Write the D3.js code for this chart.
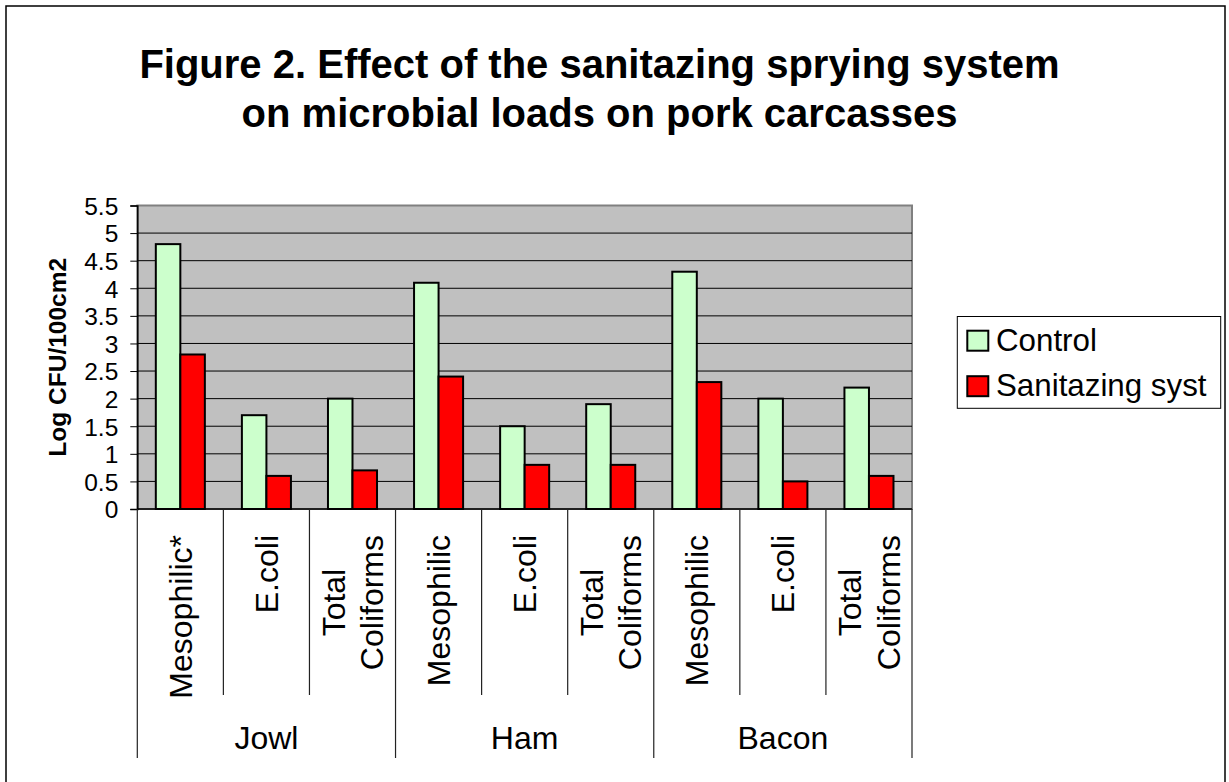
<!DOCTYPE html>
<html>
<head>
<meta charset="utf-8">
<script src="https://cdn.jsdelivr.net/npm/d3@7"></script>
<style>
  html, body { margin: 0; padding: 0; background: #fff; }
  svg { display: block; font-family: Arial, "Liberation Sans", sans-serif; }
</style>
</head>
<body>
<svg id="chart" width="1229" height="782"></svg>
<script>
// Microbial loads (Log CFU/100cm2) on pork carcass sites
const groups = ["Jowl", "Ham", "Bacon"];
const measureLabels = [["Mesophilic*"], ["E.coli"], ["Total", "Coliforms"],
                       ["Mesophilic"], ["E.coli"], ["Total", "Coliforms"],
                       ["Mesophilic"], ["E.coli"], ["Total", "Coliforms"]];
const seriesNames = ["Control", "Sanitazing syst"];
const controlValues = [4.8, 1.7, 2.0, 4.1, 1.5, 1.9, 4.3, 2.0, 2.2];
const sanitizedValues = [2.8, 0.6, 0.7, 2.4, 0.8, 0.8, 2.3, 0.5, 0.6];
const yTickValues = [0, 0.5, 1, 1.5, 2, 2.5, 3, 3.5, 4, 4.5, 5, 5.5];
const seriesColors = ["#CCFFCC", "#FF0000"];

const svg = d3.select("#chart");

// outer chart frame
svg.append("rect")
  .attr("x", 6).attr("y", 6).attr("width", 1219).attr("height", 800)
  .attr("fill", "#fff").attr("stroke", "#000").attr("stroke-width", 1.5);

// plot area geometry
const plot = { left: 137.3, right: 912, top: 205.5, bottom: 509 };

const keys = measureLabels.map((_, i) => "c" + i);
const x = d3.scaleBand().domain(keys).range([plot.left, plot.right]).padding(0);
const xInner = d3.scaleBand().domain(seriesNames).range([0, x.bandwidth()])
  .paddingInner(0).paddingOuter(0.755);
const y = d3.scaleLinear().domain([0, 5.5]).range([plot.bottom, plot.top]);

// plot background
svg.append("rect")
  .attr("x", plot.left).attr("y", plot.top)
  .attr("width", plot.right - plot.left).attr("height", plot.bottom - plot.top)
  .attr("fill", "#C0C0C0").attr("stroke", "#808080").attr("stroke-width", 2);

// horizontal gridlines
svg.append("g").selectAll("line")
  .data(yTickValues.filter(v => v > 0 && v < 5.5))
  .join("line")
  .attr("x1", plot.left).attr("x2", plot.right)
  .attr("y1", d => y(d)).attr("y2", d => y(d))
  .attr("stroke", "#000").attr("stroke-width", 1);

// bars
const rows = keys.map((k, i) => ({ key: k, values: [controlValues[i], sanitizedValues[i]] }));
const barG = svg.append("g").selectAll("g").data(rows).join("g")
  .attr("transform", d => `translate(${x(d.key)},0)`);
barG.selectAll("rect")
  .data(d => d.values.map((v, j) => ({ series: seriesNames[j], value: v, j })))
  .join("rect")
  .attr("x", d => xInner(d.series))
  .attr("width", xInner.bandwidth())
  .attr("y", d => y(d.value))
  .attr("height", d => y(0) - y(d.value))
  .attr("fill", d => seriesColors[d.j])
  .attr("stroke", "#000").attr("stroke-width", 2);

// y axis
const yAxis = svg.append("g")
  .attr("transform", `translate(${plot.left},0)`)
  .call(d3.axisLeft(y).tickValues(yTickValues).tickSize(7).tickPadding(12)
    .tickFormat(d => String(d)));
yAxis.select(".domain").attr("stroke", "#000").attr("stroke-width", 1.5);
yAxis.selectAll(".tick line").attr("stroke", "#000");
yAxis.selectAll(".tick text")
  .attr("font-size", 24.5).attr("fill", "#000")
  .attr("font-family", "Arial, 'Liberation Sans', sans-serif")
  .attr("dy", "0.36em");

// x axis baseline
svg.append("line")
  .attr("x1", plot.left).attr("x2", plot.right)
  .attr("y1", plot.bottom).attr("y2", plot.bottom)
  .attr("stroke", "#000").attr("stroke-width", 1.5);

// category dividers below the axis
const boundaries = d3.range(keys.length + 1).map(i => ({
  x: i < keys.length ? x(keys[i]) : plot.right,
  major: i % 3 === 0
}));
svg.append("g").selectAll("line").data(boundaries).join("line")
  .attr("x1", d => d.x).attr("x2", d => d.x)
  .attr("y1", plot.bottom)
  .attr("y2", d => d.major ? 758 : 695)
  .attr("stroke", "#222").attr("stroke-width", 1.2);

// rotated category labels, top-aligned, lines centred on each other
const catFont = 32;
const catTop = 535;
const catG = svg.append("g");
measureLabels.forEach((lines, i) => {
  const cx = x(keys[i]) + x.bandwidth() / 2;
  const g = catG.append("g");
  const texts = lines.map(t => g.append("text")
    .attr("font-size", catFont)
    .attr("text-anchor", "middle")
    .attr("fill", "#000")
    .text(t));
  const maxLen = d3.max(texts, t => t.node().getComputedTextLength());
  const mid = catTop + maxLen / 2;
  const lineGap = 38.3;
  texts.forEach((t, li) => {
    const off = (li - (lines.length - 1) / 2) * lineGap;
    t.attr("transform", `translate(${cx + off},${mid}) rotate(-90)`)
      .attr("dy", "0.36em");
  });
});

// group labels
svg.append("g").selectAll("text").data(groups).join("text")
  .attr("x", (d, i) => plot.left + x.step() * (i * 3 + 1.5))
  .attr("y", 749.3)
  .attr("text-anchor", "middle")
  .attr("font-size", 32)
  .attr("fill", "#000")
  .text(d => d);

// y axis title
svg.append("text")
  .attr("transform", `translate(66,${(plot.top + plot.bottom) / 2}) rotate(-90)`)
  .attr("text-anchor", "middle")
  .attr("font-size", 24.5)
  .attr("font-weight", "bold")
  .attr("fill", "#000")
  .text("Log CFU/100cm2");

// chart title
const titleLines = ["Figure 2. Effect of the sanitazing sprying system",
                    "on microbial loads on pork carcasses"];
svg.append("g").selectAll("text").data(titleLines).join("text")
  .attr("x", 599.5)
  .attr("y", (d, i) => 78.3 + i * 48.4)
  .attr("text-anchor", "middle")
  .attr("font-size", 40)
  .attr("font-weight", "bold")
  .attr("fill", "#000")
  .text(d => d);

// legend
const legend = svg.append("g");
legend.append("rect")
  .attr("x", 957.3).attr("y", 316.5).attr("width", 263.4).attr("height", 91.8)
  .attr("fill", "#fff").attr("stroke", "#000").attr("stroke-width", 1);
const legItems = legend.selectAll("g.item").data(seriesNames).join("g")
  .attr("class", "item")
  .attr("transform", (d, i) => `translate(967.3,${330.7 + i * 45.5})`);
legItems.append("rect")
  .attr("width", 21).attr("height", 20)
  .attr("fill", (d, i) => seriesColors[i])
  .attr("stroke", "#000").attr("stroke-width", 2);
legItems.append("text")
  .attr("x", 28.7).attr("y", 20)
  .attr("font-size", 31.3)
  .attr("fill", "#000")
  .text(d => d);
</script>
</body>
</html>
